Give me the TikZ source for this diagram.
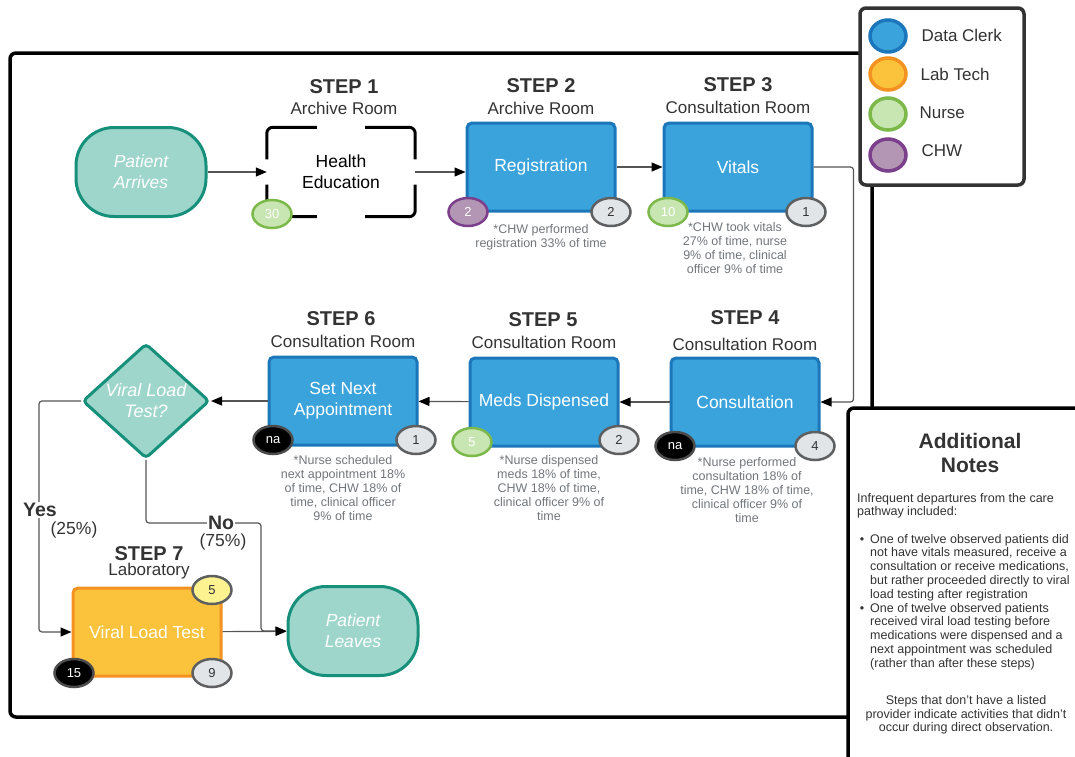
\documentclass[tikz,border=0pt]{standalone}
\usepackage{fontspec}
\setmainfont{Liberation Sans}
\usetikzlibrary{arrows.meta,shapes.geometric}

\definecolor{clerkfill}{HTML}{3BA3DC}
\definecolor{clerkline}{HTML}{1B76BA}
\definecolor{labfill}{HTML}{FBC33B}
\definecolor{labline}{HTML}{F39221}
\definecolor{nursefill}{HTML}{C8E6B1}
\definecolor{nurseline}{HTML}{7CB94A}
\definecolor{chwfill}{HTML}{B395B4}
\definecolor{chwline}{HTML}{7B3F8B}
\definecolor{termfill}{HTML}{9ED6CB}
\definecolor{termline}{HTML}{17907B}
\definecolor{greyfill}{HTML}{E2E5E8}
\definecolor{greyline}{HTML}{5E5F61}
\definecolor{yellowfill}{HTML}{FCF28F}
\definecolor{notegray}{HTML}{72767B}
\definecolor{titlegray}{HTML}{333333}
\definecolor{flowgray}{HTML}{555555}

\tikzset{
	task/.style={draw=clerkline, fill=clerkfill, line width=3pt, rounded corners=5pt, minimum width=148pt, minimum height=88pt, text=white, align=center, font=\fontsize{17.5}{21}\selectfont},
	labtask/.style={task, draw=labline, fill=labfill},
	term/.style={draw=termline, fill=termfill, line width=3pt, rounded corners=38pt, minimum width=130pt, minimum height=89pt, text=white, align=center, font=\fontsize{17.5}{21}\selectfont\itshape},
	decision/.style={diamond, draw=termline, fill=termfill, line width=3pt, rounded corners=4pt, minimum width=127pt, minimum height=114pt, inner sep=0pt, text=white, align=center, font=\fontsize{18}{21}\selectfont\itshape},
	badge/.style={ellipse, line width=2.5pt, draw=greyline, fill=greyfill, text=titlegray, minimum width=39pt, minimum height=28pt, inner sep=0pt, font=\fontsize{13}{13}\selectfont},
	nursebadge/.style={badge, draw=nurseline, fill=nursefill, text=white},
	chwbadge/.style={badge, draw=chwline, fill=chwfill, text=white},
	nabadge/.style={badge, draw=black!70, fill=black, text=white},
	yellowbadge/.style={badge, fill=yellowfill},
	legendkey/.style={ellipse, line width=3.5pt, minimum width=36pt, minimum height=32pt, inner sep=0pt},
	keylabel/.style={anchor=west, text=titlegray, font=\fontsize{17}{20}\selectfont},
	steptitle/.style={text=titlegray, font=\bfseries\fontsize{20}{22}\selectfont},
	room/.style={text=titlegray, font=\fontsize{17}{20}\selectfont},
	note/.style={text=notegray, align=center, font=\fontsize{12.5}{14}\selectfont},
	flow/.style={draw=flowgray, line width=1.2pt, -{Triangle[length=11pt,width=9pt,color=black]}},
	pathlabel/.style={fill=white, text=titlegray, inner sep=1pt, font=\bfseries\fontsize{19.5}{21}\selectfont},
	share/.style={text=titlegray, font=\fontsize{17.5}{20}\selectfont},
	bracket/.style={line width=3pt, rounded corners=6pt},
	notetext/.style={text=titlegray, inner sep=0pt, font=\fontsize{12.5}{13.7}\selectfont},
	panel/.style={draw=black, line width=3.5pt, rounded corners=6pt},
}

\begin{document}
\begin{tikzpicture}[x=1pt, y=-1pt]
		%%%%% START %%%%%
		\useasboundingbox (0, 0) rectangle (1075, 756);
		
		\draw[panel] (10, 53) rectangle (872, 717);
		
		% first row
		\node[term] (arr) at (141, 172) {Patient\\Arrives};
		
		\node[steptitle] (t1) at (344, 87) {STEP 1};
		\node[room] (r1) at (344, 108) {Archive Room};
		\node[minimum width=148pt, minimum height=89pt, align=center, font=\fontsize{17.5}{21}\selectfont] (he) at (341, 172) {Health\\Education};
		\draw[bracket] ([yshift=-32pt]he.north west) |- ([xshift=50pt]he.north west);
		\draw[bracket] ([xshift=-50pt]he.north east) -| ([yshift=-32pt]he.north east);
		\draw[bracket] ([yshift=32pt]he.south east) |- ([xshift=-50pt]he.south east);
		\draw[bracket] ([xshift=50pt]he.south west) -| ([yshift=32pt]he.south west);
		\node[nursebadge] (b1) at (272, 214) {30};
		
		\node[steptitle] (t2) at (541, 86) {STEP 2};
		\node[room] (r2) at (541, 108) {Archive Room};
		\node[task] (reg) at (541, 167) {Registration};
		\node[chwbadge] (b2a) at (468, 212) {2};
		\node[badge] (b2b) at (611, 212) {2};
		\node[note] (n2) at (541, 237) {*CHW performed\\registration 33\% of time};
		
		\node[steptitle] (t3) at (738, 85) {STEP 3};
		\node[room] (r3) at (738, 107) {Consultation Room};
		\node[task] (vit) at (738, 167) {Vitals};
		\node[nursebadge] (b3a) at (668, 212) {10};
		\node[badge] (b3b) at (806, 212) {1};
		\node[note] (n3) at (735, 248) {*CHW took vitals\\27\% of time, nurse\\9\% of time, clinical\\officer 9\% of time};
		
		% second row
		\node[steptitle] (t4) at (745, 318) {STEP 4};
		\node[room] (r4) at (745, 344) {Consultation Room};
		\node[task] (con) at (745, 402) {Consultation};
		\node[nabadge] (b4a) at (675, 446) {na};
		\node[badge] (b4b) at (815, 446) {4};
		\node[note] (n4) at (747, 490) {*Nurse performed\\consultation 18\% of\\time, CHW 18\% of time,\\clinical officer 9\% of\\time};
		
		\node[steptitle] (t5) at (543, 320) {STEP 5};
		\node[room] (r5) at (544, 342) {Consultation Room};
		\node[task] (med) at (544, 402) {Meds Dispensed};
		\node[nursebadge] (b5a) at (472, 442) {5};
		\node[badge] (b5b) at (619, 440) {2};
		\node[note] (n5) at (549, 488) {*Nurse dispensed\\meds 18\% of time,\\CHW 18\% of time,\\clinical officer 9\% of\\time};
		
		\node[steptitle] (t6) at (341, 319) {STEP 6};
		\node[room] (r6) at (343, 341) {Consultation Room};
		\node[task] (app) at (343, 401) {Set Next\\Appointment};
		\node[nabadge] (b6a) at (273, 440) {na};
		\node[badge] (b6b) at (416, 440) {1};
		\node[note] (n6) at (343, 488) {*Nurse scheduled\\next appointment 18\%\\of time, CHW 18\% of\\time, clinical officer\\9\% of time};
		
		\node[decision] (vlq) at (146, 401) {Viral Load\\Test?};
		
		% third row
		\node[text=titlegray, align=center, inner sep=0pt] (t7) at (149, 563) {{\bfseries\fontsize{20}{20}\selectfont STEP 7}\\[1pt]{\fontsize{17}{17}\selectfont Laboratory}};
		\node[labtask] (vlt) at (147, 632) {Viral Load Test};
		\node[yellowbadge] (b7a) at (212, 590) {5};
		\node[nabadge] (b7b) at (74, 673) {15};
		\node[badge] (b7c) at (212, 673) {9};
		
		\node[term] (lea) at (353, 631) {Patient\\Leaves};
		
		% connectors
		\draw[flow] (arr) -- (he);
		\draw[flow] (he.east) -- (he.east -| reg.west);
		\draw[flow] (reg) -- (vit);
		\draw[flow, rounded corners=3pt] (vit.east) -- ++(40, 0) |- (con.east);
		\draw[flow] (con) -- (med);
		\draw[flow] (med) -- (app);
		\draw[flow] (app) -- (vlq);
		\draw[flow, rounded corners=3pt] (vlq.west) -- ++(-42, 0) |- (vlt.west);
		\coordinate (nobend) at (261, 523);
		\draw[flow, rounded corners=3pt] (vlq.south) |- (nobend) |- (lea.west);
		\draw[flow] (vlt) -- (lea);
		
		\node[pathlabel] (yes) at (40, 510) {Yes};
		\node[share] (yesp) at (74, 530) {(25\%)};
		\node[pathlabel] (no) at (221, 523) {No};
		\node[share] (nop) at (223, 542) {(75\%)};
		
		% legend
		\draw[panel, draw=black!80, fill=white] (860, 8) rectangle (1024, 185);
		\node[legendkey, draw=clerkline, fill=clerkfill] (k1) at (888, 36) {};
		\node[keylabel] (l1) at (918, 35) {Data Clerk};
		\node[legendkey, draw=labline, fill=labfill] (k2) at (888, 74) {};
		\node[keylabel] (l2) at (917, 74) {Lab Tech};
		\node[legendkey, draw=nurseline, fill=nursefill] (k3) at (888, 114) {};
		\node[keylabel] (l3) at (916, 113) {Nurse};
		\node[legendkey, draw=chwline, fill=chwfill] (k4) at (888, 155) {};
		\node[keylabel] (l4) at (918, 151) {CHW};
		
		% additional notes
		\fill[white] (848, 408) rectangle (1080, 760);
		\draw[panel] (1090, 408) -- (848, 408) -- (848, 770);
		\node[text=titlegray, align=center, font=\bfseries\fontsize{21}{24}\selectfont] (nt) at (970, 453) {Additional\\Notes};
		\node[notetext, anchor=north west, align=left] (np) at (857, 493) {Infrequent departures from the care\\pathway included:};
		\node[notetext, anchor=base] (d1) at (862, 543) {•};
		\node[notetext, anchor=north west, align=left] (ni1) at (870, 534) {One of twelve observed patients did\\not have vitals measured, receive a\\consultation or receive medications,\\but rather proceeded directly to viral\\load testing after registration};
		\node[notetext, anchor=base] (d2) at (862, 612) {•};
		\node[notetext, anchor=north west, align=left] (ni2) at (870, 603) {One of twelve observed patients\\received viral load testing before\\medications were dispensed and a\\next appointment was scheduled\\(rather than after these steps)};
		\node[notetext, align=center] (nf) at (966, 715) {Steps that don't have a listed\\provider indicate activities that didn't\\occur during direct observation.};
		
		%%%%% END %%%%%
	\end{tikzpicture}
\end{document}
